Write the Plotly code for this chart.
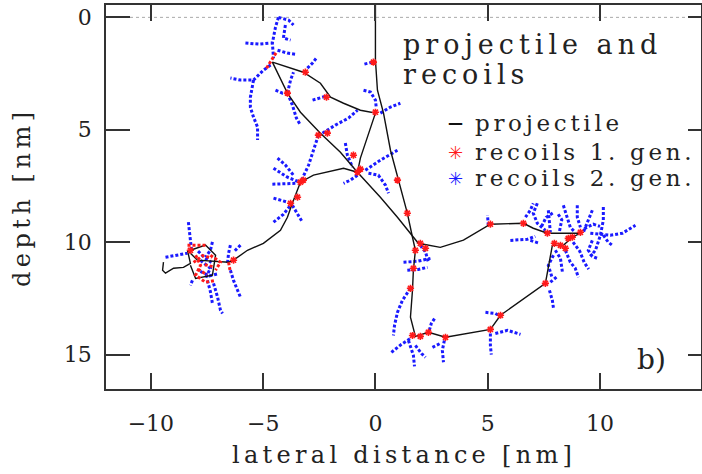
import plotly.graph_objects as go

# ---------------- data (nm) ----------------
x_range = [-12, 14.5]
y_range = [16.53, -0.55]
x_ticks = [-10, -5, 0, 5, 10]
x_tick_labels = ["\u221210", "\u22125", "0", "5", "10"]
y_ticks = [0, 5, 10, 15]
y_tick_labels = ["0", "5", "10", "15"]
surface_depth = 0

# projectile path segments (lateral, depth)
proj_entry = [(0, -0.6), (0, 1.90), (0.09, 3.24), (0.36, 4.26), (0.67, 5.91), (0.98, 7.02), (1.42, 8.71),
              (1.65, 9.78), (1.78, 10.36), (1.69, 11.25), (1.65, 12.14), (1.56, 13.34), (1.78, 14.19),
              (2.36, 14.01), (3.12, 14.23), (5.12, 13.88), (5.57, 13.25), (7.57, 11.83), (7.88, 10.14),
              (8.37, 10.14), (8.77, 9.78), (9.13, 9.60)]
proj_diag = [(-4.59, 1.99), (-3.92, 3.37), (-3.34, 4.22), (-2.45, 5.15), (-1.56, 6.00), (-0.80, 6.89),
             (0.22, 8.00), (0.98, 8.89), (1.91, 10.05), (2.89, 10.23), (3.92, 9.91), (5.12, 9.20),
             (6.59, 9.16), (7.03, 9.38), (7.66, 9.60), (9.13, 9.60)]
proj_upper = [(-4.59, 1.99), (-3.21, 2.44), (-2.45, 2.93), (-2.00, 3.55), (-1.42, 3.82), (-0.67, 4.13),
              (0.0, 4.26), (-0.40, 5.46), (-0.67, 6.26), (-0.80, 6.89)]
proj_left = [(-0.80, 6.89), (-1.42, 6.71), (-2.76, 7.02), (-3.34, 7.33), (-3.70, 8.27), (-3.92, 8.89),
             (-4.23, 9.47), (-4.99, 10.05), (-5.70, 10.36), (-6.32, 10.80), (-6.54, 10.89), (-7.93, 10.80),
             (-8.24, 10.49), (-8.37, 10.36), (-8.24, 10.94), (-8.55, 11.12), (-8.99, 11.16), (-9.35, 11.38),
             (-9.48, 11.25), (-9.44, 10.89)]
proj_knot = [(-8.24, 10.36), (-7.57, 10.13), (-7.12, 10.58), (-7.26, 11.47), (-8.01, 11.61), (-8.24, 11.03)]
projectile_segments = [proj_entry, proj_diag, proj_upper, proj_left, proj_knot]

# first-generation recoils: short tracks and single collision sites
recoil1_tracks = [
    [(-4.85, 2.26), (-4.67, 1.99), (-4.50, 1.72), (-4.41, 1.55)],
    [(-8.37, 10.14), (-8.01, 10.14), (-7.57, 10.14)],
    [(-8.01, 10.58), (-7.79, 11.03), (-8.01, 11.47), (-7.57, 11.78), (-7.12, 11.70)],
    [(-7.35, 10.58), (-6.90, 10.89), (-7.12, 11.25)],
    [(-6.54, 10.89), (-6.46, 11.34)],
    [(-7.90, 11.20), (-7.50, 11.45)],
    [(-8.10, 10.90), (-7.70, 10.60), (-7.30, 10.70)],
    [(-7.60, 11.00), (-7.20, 11.10)],
]
recoil1_sites = [(-3.12, 2.44), (-2.18, 3.55), (-3.92, 3.37), (-2.54, 5.24), (-2.14, 5.15), (-0.09, 1.99),
                 (0.0, 4.22), (0.98, 7.24), (1.42, 8.71), (-0.80, 6.89), (-0.67, 6.75), (-0.98, 6.13),
                 (-3.78, 8.27), (-3.47, 8.00), (-3.34, 7.33), (-3.21, 7.24), (1.78, 10.36), (1.69, 11.16),
                 (2.00, 10.05), (2.23, 10.27), (1.56, 12.05), (1.65, 14.15), (2.00, 14.19), (2.36, 14.01),
                 (3.12, 14.23), (5.12, 13.88), (5.57, 13.25), (7.57, 11.83), (5.12, 9.20), (6.59, 9.16),
                 (7.66, 9.60), (8.24, 10.14), (8.46, 10.27), (9.13, 9.56), (8.59, 9.83), (7.97, 10.05),
                 (8.77, 9.78), (-8.24, 10.36), (-6.32, 10.80)]

# second-generation recoil tracks
recoil2_tracks = [
    [(-4.32, 0.0), (-4.45, 0.43), (-4.59, 1.14), (-4.54, 1.81)],
    [(-4.32, 0.0), (-3.87, 0.12), (-3.65, 0.34)],
    [(-4.01, 0.34), (-4.10, 0.92), (-3.78, 1.01)],
    [(-5.79, 1.14), (-5.21, 1.19), (-4.67, 1.14)],
    [(-4.36, 1.46), (-3.92, 1.59), (-3.56, 1.64)],
    [(-4.67, 2.12), (-4.99, 2.35), (-5.43, 2.79), (-6.01, 2.79), (-6.46, 2.70)],
    [(-5.43, 2.79), (-5.57, 3.55), (-5.57, 4.00), (-5.43, 4.44), (-5.25, 4.88), (-5.25, 5.46)],
    [(-3.03, 2.26), (-2.80, 2.03), (-2.63, 1.81)],
    [(-2.80, 3.68), (-2.45, 3.59), (-2.18, 3.50)],
    [(-4.45, 3.24), (-4.14, 3.37), (-3.92, 3.37)],
    [(-3.92, 3.37), (-3.70, 3.90), (-3.52, 4.48), (-3.34, 4.79)],
    [(-3.92, 3.37), (-3.78, 2.79), (-3.65, 2.44)],
    [(-2.36, 5.15), (-1.78, 4.79), (-1.20, 4.48), (-0.80, 4.13)],
    [(-2.54, 5.24), (-2.72, 5.82), (-2.98, 6.58), (-3.25, 7.15)],
    [(-0.53, 3.24), (-0.22, 3.32), (0.0, 3.68), (0.04, 4.04)],
    [(0.22, 4.26), (0.67, 3.99), (1.11, 3.82)],
    [(-0.49, 2.08), (-0.13, 1.99)],
    [(-0.45, 6.80), (0.22, 6.35), (0.98, 5.91)],
    [(-0.80, 7.02), (-1.11, 7.24), (-1.42, 7.38)],
    [(-1.34, 5.59), (-1.25, 6.13), (-1.02, 6.66)],
    [(-0.31, 6.93), (0.13, 7.02), (0.45, 7.47), (0.58, 7.82)],
    [(-4.54, 6.71), (-3.92, 7.11), (-3.47, 7.29)],
    [(-4.59, 7.42), (-3.87, 7.38), (-3.47, 7.38)],
    [(-4.36, 6.26), (-4.01, 6.57), (-3.65, 7.02)],
    [(-4.54, 8.04), (-3.92, 8.22)],
    [(-4.54, 9.11), (-4.10, 8.76), (-3.78, 8.36)],
    [(-3.70, 8.36), (-3.43, 8.80), (-3.25, 9.11)],
    [(-8.33, 9.11), (-8.28, 9.69), (-8.19, 10.36)],
    [(-9.35, 10.67), (-8.82, 10.58), (-8.37, 10.49)],
    [(-7.26, 9.99), (-7.35, 10.36), (-7.57, 10.67)],
    [(-6.46, 10.13), (-6.54, 10.49), (-6.59, 10.94)],
    [(-6.01, 10.13), (-6.32, 10.44)],
    [(-6.46, 11.25), (-6.32, 11.70), (-6.14, 12.14), (-6.01, 12.45)],
    [(-7.21, 11.83), (-7.03, 12.45), (-6.90, 13.03), (-6.81, 13.17)],
    [(-7.48, 11.70), (-7.35, 12.20), (-7.26, 12.72)],
    [(-8.15, 11.70), (-8.24, 11.92)],
    [(-7.79, 10.81), (-7.35, 11.16), (-7.57, 11.61)],
    [(-7.90, 10.40), (-7.60, 10.70), (-7.30, 10.90)],
    [(-7.80, 11.30), (-7.40, 11.50), (-7.00, 11.40)],
    [(1.25, 10.89), (1.87, 10.85), (2.45, 10.72)],
    [(1.42, 11.25), (1.91, 11.21), (2.32, 11.12)],
    [(2.00, 10.14), (2.23, 10.44), (2.36, 10.89)],
    [(1.56, 12.05), (1.20, 12.59), (0.98, 13.12), (0.85, 13.70), (0.80, 14.15)],
    [(0.71, 14.90), (1.16, 14.54), (1.56, 14.28)],
    [(1.47, 14.37), (1.69, 15.03), (1.74, 15.52)],
    [(1.78, 14.59), (2.05, 14.95), (2.23, 15.12)],
    [(2.40, 13.92), (2.49, 13.61), (2.67, 13.34)],
    [(3.07, 14.37), (2.98, 14.81), (3.03, 15.34)],
    [(2.54, 14.68), (2.89, 14.50)],
    [(5.12, 14.06), (5.12, 14.59), (5.16, 15.00)],
    [(5.34, 14.06), (5.88, 13.92), (6.46, 14.10)],
    [(4.90, 13.12), (5.34, 13.17), (5.57, 13.30)],
    [(7.75, 12.14), (7.88, 12.59), (7.93, 12.94)],
    [(7.79, 11.78), (8.10, 11.52)],
    [(6.01, 9.92), (6.77, 9.87), (7.12, 9.74)],
    [(7.21, 8.27), (7.03, 8.71), (7.21, 9.16), (7.57, 9.47)],
    [(7.70, 8.58), (7.75, 9.16), (7.79, 9.56)],
    [(8.37, 8.36), (8.55, 8.89), (8.68, 9.34), (8.90, 9.56)],
    [(8.99, 8.36), (8.99, 8.89), (9.13, 9.34)],
    [(9.66, 8.58), (9.44, 9.16), (9.26, 9.56)],
    [(10.15, 8.44), (10.15, 9.02), (10.02, 9.69), (9.80, 10.36), (9.57, 10.63)],
    [(9.57, 9.60), (10.46, 9.69), (11.00, 9.60), (11.58, 9.25)],
    [(9.66, 9.92), (9.48, 10.36), (9.66, 10.63), (9.88, 10.72)],
    [(10.15, 9.69), (10.37, 10.00), (10.55, 10.14)],
    [(8.46, 10.36), (8.68, 10.89), (8.90, 11.16), (9.04, 11.56)],
    [(8.01, 10.36), (8.24, 10.72), (8.33, 11.34)],
    [(7.93, 10.58), (7.70, 11.03), (7.88, 11.61)],
    [(5.03, 9.25), (4.99, 8.80)],
    [(6.68, 8.89), (6.90, 8.58), (7.03, 8.27)],
    [(6.90, 9.92), (7.30, 10.05)],
    [(7.40, 9.30), (7.60, 8.90), (7.90, 8.70)],
    [(8.20, 9.50), (8.30, 9.00), (8.10, 8.70)],
    [(9.30, 9.40), (9.70, 9.20), (10.00, 9.30)],
    [(8.80, 10.00), (9.10, 10.40), (9.30, 10.90), (9.50, 11.20)],
]

title_lines = ["projectile and", "recoils"]
legend_names = ["projectile", "recoils 1. gen.", "recoils 2. gen."]
panel_label = "b)"
x_title = "lateral distance [nm]"
y_title = "depth [nm]"


def join(segs):
    xs, ys = [], []
    for s in segs:
        xs += [p[0] for p in s] + [None]
        ys += [p[1] for p in s] + [None]
    return xs, ys


FONT = "DejaVu Serif"
BLUE = "#1a1aff"
RED = "#ff1a1a"
BLACK = "#111111"
AX = "#333333"
TXT = "#222222"


def sp(t, ls):
    return f"<span style='letter-spacing:{ls}px'>{t}</span>"


fig = go.Figure()

bx, by = join(recoil2_tracks)
fig.add_trace(go.Scatter(x=bx, y=by, mode="lines", line=dict(color=BLUE, width=3, dash="3px,2px"),
                         showlegend=False, hoverinfo="skip"))
px, py = join(projectile_segments)
fig.add_trace(go.Scatter(x=px, y=py, mode="lines", line=dict(color=BLACK, width=1.4),
                         showlegend=False, hoverinfo="skip"))
rx, ry = join(recoil1_tracks)
fig.add_trace(go.Scatter(x=rx, y=ry, mode="lines", line=dict(color=RED, width=3, dash="3px,2px"),
                         showlegend=False, hoverinfo="skip"))
fig.add_trace(go.Scatter(x=[p[0] for p in recoil1_sites], y=[p[1] for p in recoil1_sites], mode="markers",
                         marker=dict(symbol="asterisk-open", size=6, color=RED, line=dict(color=RED, width=1.6)),
                         showlegend=False, hoverinfo="skip"))
# carrier for the right-hand tick marks
fig.add_trace(go.Scatter(x=[None], y=[None], yaxis="y2", showlegend=False, hoverinfo="skip"))

fig.add_shape(type="line", xref="paper", x0=0, x1=1, yref="y", y0=surface_depth, y1=surface_depth,
              line=dict(color="#aaaaaa", width=1, dash="dot"), layer="below")

ann = []
# title block
ann.append(dict(text=sp(title_lines[0], 5), x=0.496, y=0.896, font=dict(size=27)))
ann.append(dict(text=sp(title_lines[1], 5), x=0.496, y=0.818, font=dict(size=27)))
# legend block
leg_y = [0.693, 0.617, 0.549]
leg_sym = [("<b>\u2014</b>", BLACK, "DejaVu Sans", 15), ("\u2733", RED, "DejaVu Sans", 18),
           ("\u2733", BLUE, "DejaVu Sans", 18)]
for name, yy, (sym, col, fam, fs) in zip(legend_names, leg_y, leg_sym):
    ann.append(dict(text=sym, x=0.588, y=yy, xanchor="center", font=dict(size=fs, color=col, family=fam)))
    ann.append(dict(text=sp(name, 3.7), x=0.617, y=yy, font=dict(size=23)))
for a in ann:
    a.setdefault("xanchor", "left")
    a.update(xref="paper", yref="paper", yanchor="middle", showarrow=False)
    a["font"] = dict(dict(family=FONT, color=TXT), **a["font"])

ann.append(dict(text=panel_label, xref="paper", yref="paper", x=0.945, y=0.078, xanchor="right",
                yanchor="middle", showarrow=False, font=dict(size=28, family=FONT, color=TXT)))
ann.append(dict(text=sp(x_title, 4.3), xref="paper", yref="paper", x=0.5, y=-0.172, xanchor="center",
                yanchor="middle", showarrow=False, font=dict(size=24, family=FONT, color=TXT)))
ann.append(dict(text=sp(y_title, 4.5), xref="paper", yref="paper", x=-0.141, y=0.5, xanchor="center",
                yanchor="middle", textangle=-90, showarrow=False, font=dict(size=24, family=FONT, color=TXT)))

fig.update_layout(
    width=702, height=474,
    margin=dict(l=106, r=1, t=5, b=85, autoexpand=False),
    paper_bgcolor="white", plot_bgcolor="white",
    font=dict(family=FONT, size=22, color=TXT),
    showlegend=False,
    xaxis=dict(range=x_range, tickvals=x_ticks, ticktext=x_tick_labels, ticks="inside", ticklen=16,
               tickwidth=1.5, tickcolor=AX, showline=True, linecolor=AX, linewidth=1.5, mirror="ticks",
               showgrid=False, zeroline=False, ticklabelstandoff=14, automargin=False),
    yaxis=dict(range=y_range, tickvals=y_ticks, ticktext=y_tick_labels, ticks="inside", ticklen=24,
               tickwidth=1.5, tickcolor=AX, showline=True, linecolor=AX, linewidth=1.5, mirror=True,
               showgrid=False, zeroline=False, ticklabelstandoff=8, automargin=False),
    yaxis2=dict(range=y_range, overlaying="y", side="right", tickvals=y_ticks, ticks="inside", ticklen=13,
                tickwidth=1.5, tickcolor=AX, showticklabels=False, showgrid=False, zeroline=False,
                showline=False, automargin=False),
    annotations=ann,
)

fig.write_html("out.html", config={"displayModeBar": False},
               post_script="document.body.style.margin='0';")
